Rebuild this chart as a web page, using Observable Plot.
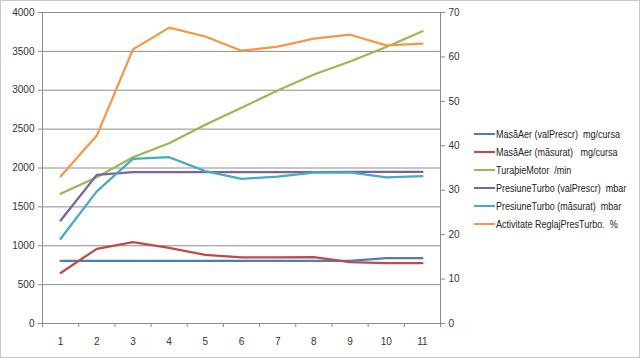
<!DOCTYPE html>
<html>
<head>
<meta charset="utf-8">
<script src="https://cdn.jsdelivr.net/npm/d3@7"></script>
<script src="https://cdn.jsdelivr.net/npm/@observablehq/plot@0.6"></script>
<style>
  body { margin: 0; background: #fff; }
  #wrap { position: relative; width: 640px; height: 358px; overflow: hidden; font-family: "Liberation Sans", sans-serif; }
  #wrap svg { position: absolute; left: 0; top: 0; }
  #border { position: absolute; left: 0; top: 0; width: 638px; height: 356px; border: 1px solid #c8c8c8; pointer-events: none; }
  #legend { position: absolute; left: 474px; top: 125px; font-size: 10px; color: #222; width: 166px; }
  .row { display: flex; align-items: center; height: 18px; white-space: pre; }
  .sw { width: 21px; height: 2px; margin-right: 1px; flex: none; }
  .row span { display: inline-block; transform: scaleX(0.9); transform-origin: left center; }
</style>
</head>
<body>
<div id="wrap"><div id="legend"></div><div id="border"></div></div>
<script>
const categories = [1, 2, 3, 4, 5, 6, 7, 8, 9, 10, 11];
const masaAerPrescr = [805, 805, 805, 805, 805, 805, 805, 805, 805, 840, 840];
const masaAerMasurat = [650, 960, 1046, 973, 883, 849, 850, 853, 789, 776, 776];
const turatieMotor = [1668, 1882, 2139, 2319, 2555, 2774, 2997, 3203, 3370, 3556, 3760];
const presiunePrescr = [1325, 1912, 1946, 1946, 1948, 1948, 1948, 1948, 1950, 1950, 1950];
const presiuneMasurat = [1090, 1700, 2118, 2139, 1960, 1861, 1890, 1940, 1945, 1880, 1895];
const activitate = [33.1, 42.3, 61.7, 66.6, 64.6, 61.4, 62.3, 64.1, 65.0, 62.6, 63.0];

const leftTicks = [0, 500, 1000, 1500, 2000, 2500, 3000, 3500, 4000];
const rightTicks = [0, 10, 20, 30, 40, 50, 60, 70];
const seriesNames = [
  "MasăAer (valPrescr)  mg/cursa",
  "MasăAer (măsurat)   mg/cursa",
  "TuraþieMotor  /min",
  "PresiuneTurbo (valPrescr)  mbar",
  "PresiuneTurbo (măsurat)  mbar",
  "Activitate ReglajPresTurbo.  %"
];
const colors = ["#4A7EBB", "#BE4B48", "#98B954", "#7D60A0", "#46AAC5", "#F79646"];

const LMAX = 4000, RMAX = 70;
const toLeft = v => v * LMAX / RMAX;

const seriesValues = [masaAerPrescr, masaAerMasurat, turatieMotor, presiunePrescr, presiuneMasurat, activitate.map(toLeft)];
const data = [];
seriesValues.forEach((vals, si) => vals.forEach((v, i) => data.push({ x: categories[i], y: v, s: seriesNames[si] })));

const halfTicks = d3.range(0.5, 12, 1);

const chart = Plot.plot({
  width: 640,
  height: 358,
  marginLeft: 42,
  marginRight: 200,
  marginTop: 12,
  marginBottom: 35,
  style: { fontFamily: "'Liberation Sans', sans-serif", fontSize: "10px", color: "#333", background: "transparent" },
  x: { type: "linear", domain: [0.5, 11.5], axis: null },
  y: { domain: [0, LMAX], axis: null },
  color: { domain: seriesNames, range: colors },
  marks: [
    Plot.ruleY(leftTicks.filter(d => d > 0), { stroke: "#8c8c8c", strokeWidth: 1 }),
    Plot.ruleX([0.5], { y1: 0, y2: LMAX, stroke: "#8c8c8c" }),
    Plot.ruleX([11.5], { y1: 0, y2: LMAX, stroke: "#8c8c8c" }),
    Plot.ruleY([0], { stroke: "#8c8c8c" }),
    Plot.axisY({ ticks: leftTicks, tickSize: 4, tickPadding: 4, stroke: "#8c8c8c", tickFormat: d => String(d), anchor: "left", label: null }),
    Plot.axisY({ ticks: rightTicks.map(toLeft), tickSize: 4, tickPadding: 4, stroke: "#8c8c8c", tickFormat: d => String(Math.round(d * RMAX / LMAX)), anchor: "right", label: null }),
    Plot.axisX({ ticks: halfTicks, tickSize: 4, tickFormat: () => "", stroke: "#8c8c8c", anchor: "bottom", label: null }),
    Plot.axisX({ ticks: categories, tickSize: 0, tickPadding: 14, tickFormat: d => String(d), anchor: "bottom", label: null }),
    Plot.line(data, { x: "x", y: "y", z: "s", stroke: "s", strokeWidth: 2.25, strokeLinejoin: "round", curve: "linear" })
  ]
});
document.getElementById("wrap").prepend(chart);

const legend = document.getElementById("legend");
seriesNames.forEach((n, i) => {
  const row = document.createElement("div");
  row.className = "row";
  const sw = document.createElement("div");
  sw.className = "sw";
  sw.style.background = colors[i];
  const t = document.createElement("span");
  t.textContent = n;
  row.appendChild(sw);
  row.appendChild(t);
  legend.appendChild(row);
});
</script>
</body>
</html>
